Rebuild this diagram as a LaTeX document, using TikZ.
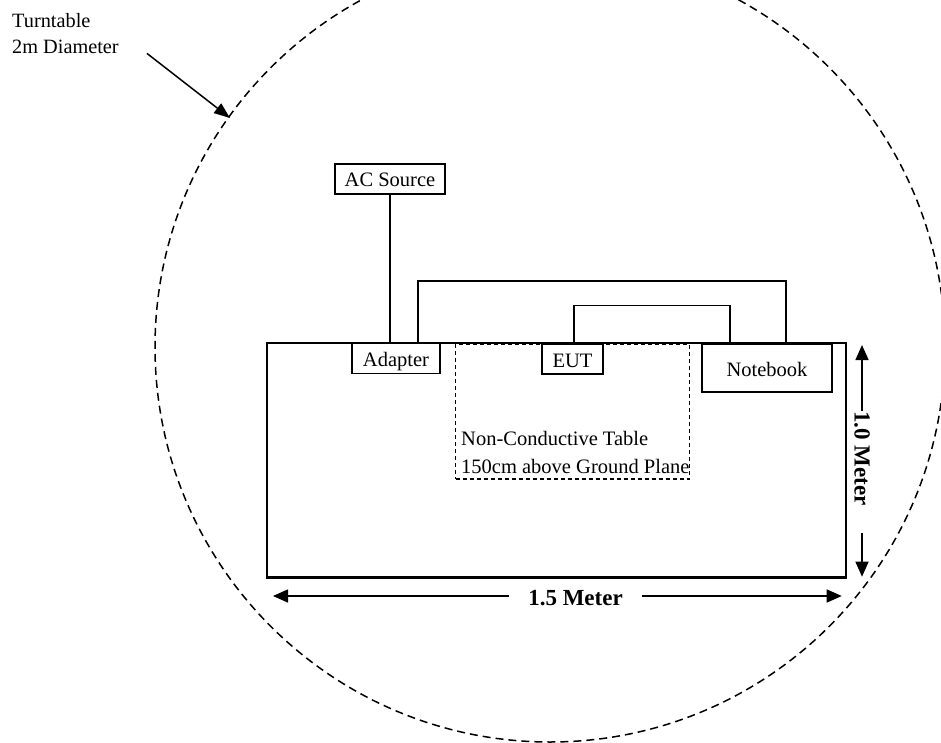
\documentclass[tikz,border=0pt]{standalone}
\usepackage{fontspec}
\setmainfont{Liberation Serif}
\usetikzlibrary{arrows.meta, calc}

\begin{document}
\begin{tikzpicture}[x=1pt, y=-1pt,
    every node/.style={font=\fontsize{20.5}{27.7}\selectfont},
    box/.style={draw, rectangle, line width=1.5pt, inner sep=0pt, text height=16pt, text depth=0pt},
    cable/.style={line width=1.5pt},
    dimarrow/.style={line width=1.5pt, -{Triangle[length=15pt, width=13pt]}},
    dimlabel/.style={font=\fontsize{23}{23}\selectfont\bfseries, inner sep=0pt}]
    \useasboundingbox (0,0) rectangle (941,743);
    \clip (0,0) rectangle (941,743);

    % Turntable
    \draw[line width=1.5pt, dash pattern=on 8pt off 5pt] (550,347) circle [radius=395pt];
    \node[anchor=north west, align=left, inner sep=0pt, font=\fontsize{20.3}{26.7}\selectfont] (turntable) at (12,13) {Turntable\\2m Diameter};
    \coordinate (turntableedge) at (230,118);
    \draw[line width=1.5pt, -{Triangle[length=16pt, width=12pt]}] ([xshift=28pt, yshift=1pt]turntable.south east) -- (turntableedge);

    % Table
    \node[draw, rectangle, line width=2.5pt, minimum width=579pt, minimum height=234.5pt, inner sep=0pt] (table) at (556.5,460) {};
    \node[draw, rectangle, line width=1.2pt, dash pattern=on 4pt off 3pt, minimum width=233.6pt, minimum height=134.7pt, inner sep=0pt] (tablearea) at (572.5,411.7) {};
    \node[anchor=north west, align=left, inner sep=0pt] (tablenote) at (461,431) {Non-Conductive Table\\150cm above Ground Plane};

    % Equipment
    \node[box, minimum width=110pt, minimum height=30pt] (acsource) at (390,179) {AC Source};
    \node[box, minimum width=88pt, minimum height=31pt] (adapter) at (396,358) {Adapter};
    \node[box, minimum width=61pt, minimum height=30pt] (eut) at (572.5,359) {EUT};
    \node[box, minimum width=130pt, minimum height=48pt] (notebook) at (767,368) {Notebook};

    % Cables
    \draw[cable] (acsource.south) -- (acsource.south |- adapter.north);
    \draw[cable] ([xshift=22pt]adapter.north) -- ++(0,-60.7) -| ([xshift=19pt]notebook.north);
    \draw[cable] ([xshift=1.5pt]eut.north) -- ++(0,-38) -| ([xshift=-37pt]notebook.north);

    % Dimensions
    \node[dimlabel, inner xsep=19.5pt] (widthlabel) at (575.5,598) {1.5 Meter};
    \coordinate (widthleft) at (273,596);
    \coordinate (widthright) at (841.7,596);
    \draw[dimarrow] (widthlabel.west |- widthleft) -- (widthleft);
    \draw[dimarrow] (widthlabel.east |- widthright) -- (widthright);

    \node[dimlabel, rotate=-90] (heightlabel) at (862,458.4) {1.0 Meter};
    \coordinate (heighttop) at (862,345);
    \coordinate (heightbottom) at (862,576.7);
    \draw[dimarrow] (heightlabel.west -| heighttop) -- (heighttop);
    \draw[dimarrow] ([yshift=-26.7pt]heightlabel.east -| heightbottom) -- (heightbottom);
\end{tikzpicture}
\end{document}
